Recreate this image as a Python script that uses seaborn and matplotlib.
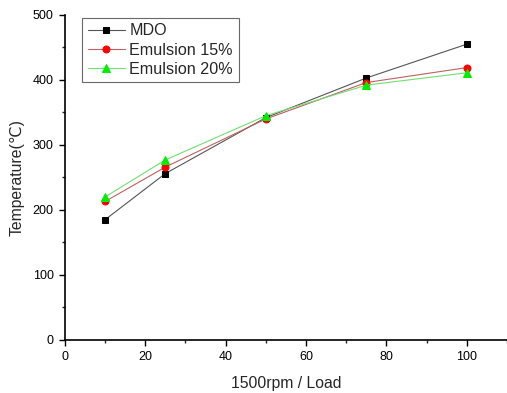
import matplotlib
matplotlib.use("Agg")
import matplotlib.pyplot as plt
import seaborn as sns
import pandas as pd
from matplotlib.ticker import MultipleLocator

sns.set_style("ticks")
plt.rcParams['font.family'] = ['Liberation Sans', 'DejaVu Sans']

load = [10, 25, 50, 75, 100]
mdo = [185, 256, 342, 403, 455]
emul15 = [213, 266, 340, 396, 419]
emul20 = [220, 277, 345, 392, 411]
series_names = ["MDO", "Emulsion 15%", "Emulsion 20%"]

fig = plt.figure(figsize=(5.07, 3.93), dpi=100)
ax = fig.add_axes([0.128, 0.135, 0.872, 0.827])

styles = [("black", "s", 4.5, "#555555"), ("red", "o", 5, "#c06060"), ("#00ee00", "^", 6, "#70e070")]
for name, vals, (mc, mk, ms, lc) in zip(series_names, [mdo, emul15, emul20], styles):
    df = pd.DataFrame({"x": load, "y": vals})
    sns.lineplot(data=df, x="x", y="y", ax=ax, color=lc, marker=mk, markersize=ms,
                 markerfacecolor=mc, markeredgecolor=mc, linewidth=0.8, label=name)

ax.set_xlim(0, 110)
ax.set_ylim(0, 500)
ax.xaxis.set_major_locator(MultipleLocator(20))
ax.xaxis.set_minor_locator(MultipleLocator(10))
ax.yaxis.set_major_locator(MultipleLocator(100))
ax.yaxis.set_minor_locator(MultipleLocator(50))
ax.tick_params(axis='both', which='major', direction='out', length=4, width=1, labelsize=9, colors='black', pad=4)
ax.tick_params(axis='both', which='minor', direction='out', length=2.5, width=1)
for s in ['left', 'bottom']:
    ax.spines[s].set_linewidth(1.2)
    ax.spines[s].set_color('black')
ax.spines['top'].set_visible(False)
ax.spines['right'].set_visible(False)
ax.set_xticks([0, 20, 40, 60, 80, 100])
ax.set_xlabel("1500rpm / Load", fontsize=11.3, labelpad=9)
ax.set_ylabel("Temperature(℃)", fontsize=11.3, labelpad=6)

leg = ax.legend(loc='upper left', bbox_to_anchor=(0.0385, 0.991), fontsize=11.6, frameon=True,
                fancybox=False, edgecolor='#444444', handlelength=2.3, borderpad=0.35,
                labelspacing=0.25, handletextpad=0.3, borderaxespad=0)
leg.get_frame().set_linewidth(0.8)

fig.savefig("out.png", dpi=100)
